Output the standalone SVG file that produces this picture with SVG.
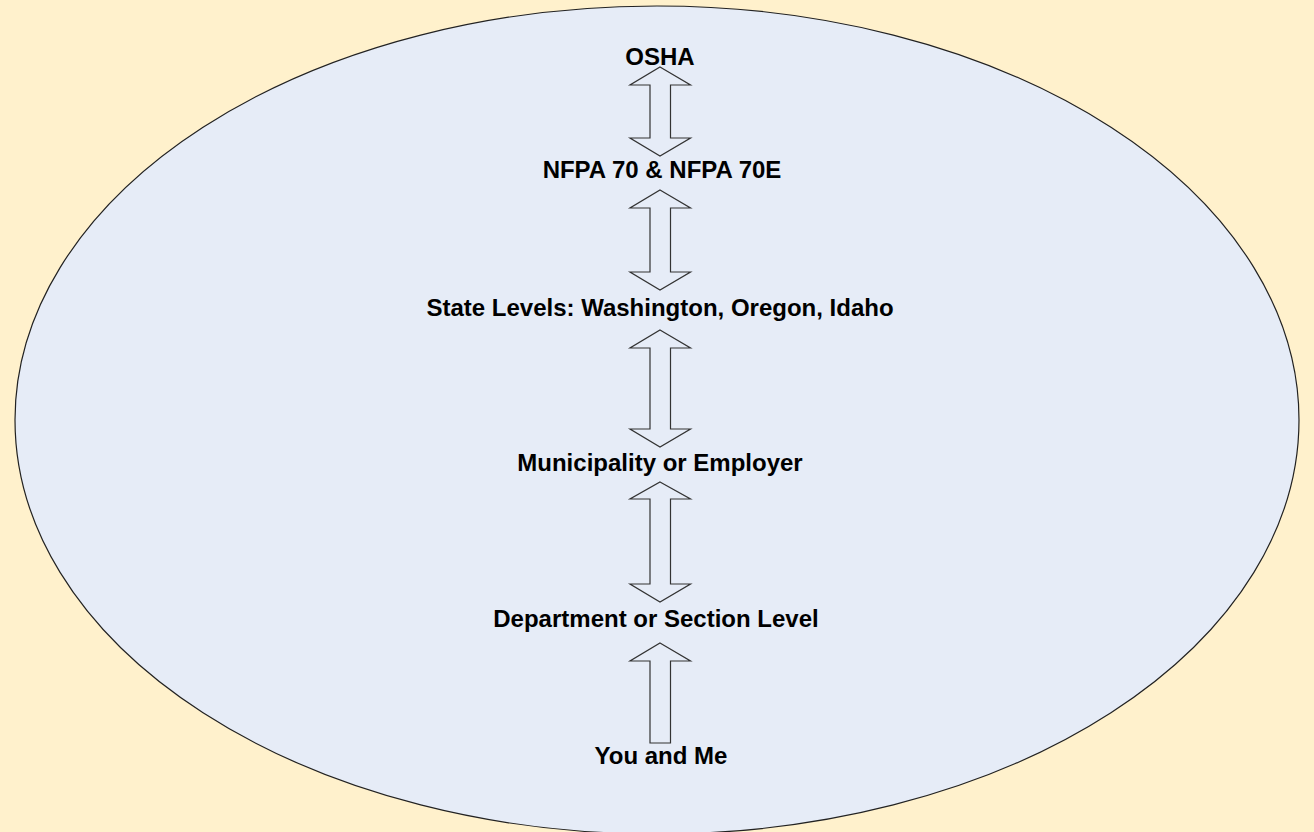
<svg xmlns="http://www.w3.org/2000/svg" width="1314" height="832" viewBox="0 0 1314 832">
<style>
.lbl{font-family:"Liberation Sans",Arial,sans-serif;font-weight:bold;font-size:24px;fill:#000;text-anchor:middle}
.arr{fill:#E6ECF7;stroke:#333;stroke-width:1.2}
</style>
<rect x="0" y="0" width="1314" height="832" fill="#FFF1CC"/>
<g id="scope">
<ellipse cx="657" cy="420" rx="642" ry="414" fill="#E6ECF7" stroke="#222" stroke-width="1.2"/>
</g>
<g id="connectors">
<path class="arr" d="M660,67 L690.5,85 L670.5,85 L670.5,138 L690.5,138 L660,156 L630,138 L650,138 L650,85 L630,85 Z"/>
<path class="arr" d="M660,190 L690.5,208 L670.5,208 L670.5,272 L690.5,272 L660,290 L630,272 L650,272 L650,208 L630,208 Z"/>
<path class="arr" d="M660,330 L690.5,348 L670.5,348 L670.5,429 L690.5,429 L660,447 L630,429 L650,429 L650,348 L630,348 Z"/>
<path class="arr" d="M660,482 L690.5,499 L670.5,499 L670.5,584 L690.5,584 L660,602 L630,584 L650,584 L650,499 L630,499 Z"/>
<path class="arr" d="M660,643 L690.5,661 L670.5,661 L670.5,743 L650,743 L650,661 L630,661 Z"/>
</g>
<g id="osha"><text class="lbl" x="660" y="65">OSHA</text></g>
<g id="nfpa"><text class="lbl" x="662" y="178">NFPA 70 &amp; NFPA 70E</text></g>
<g id="state"><text class="lbl" x="660" y="316">State Levels: Washington, Oregon, Idaho</text></g>
<g id="municipality"><text class="lbl" x="660" y="471">Municipality or Employer</text></g>
<g id="department"><text class="lbl" x="656" y="627">Department or Section Level</text></g>
<g id="you"><text class="lbl" x="661" y="764">You and Me</text></g>
</svg>
